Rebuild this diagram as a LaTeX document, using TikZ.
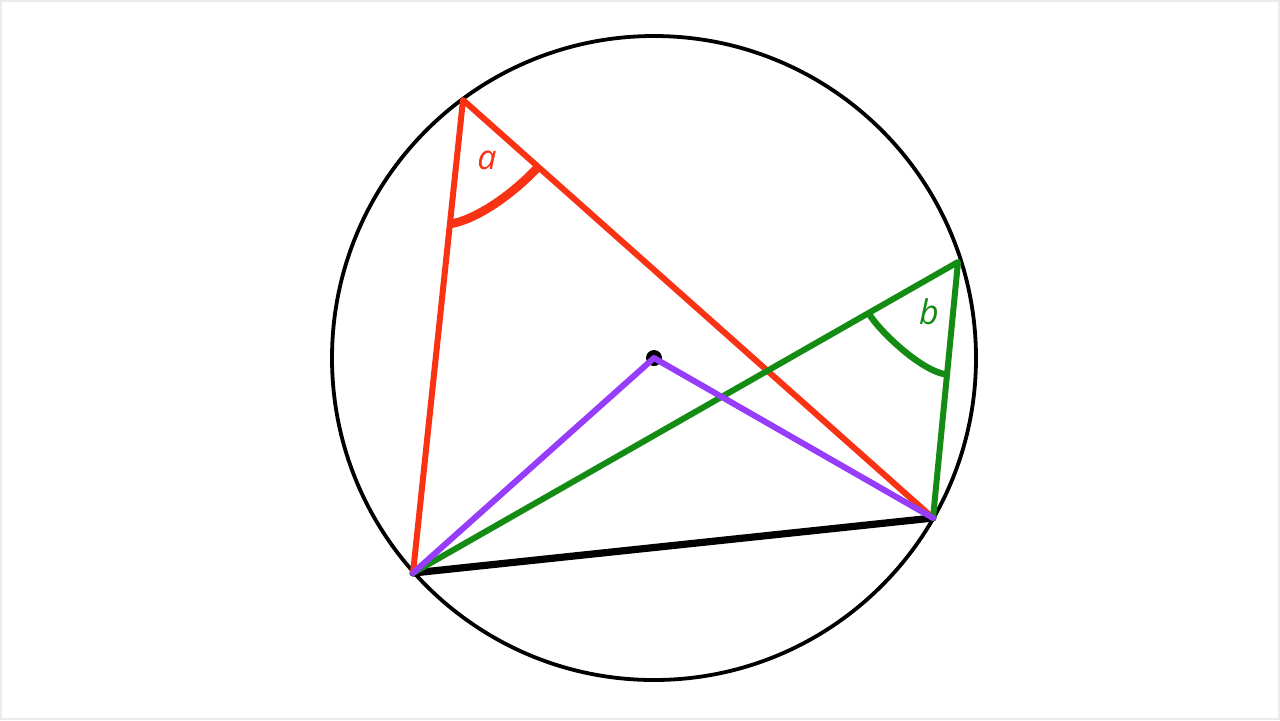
\documentclass[tikz,border=0pt]{standalone}
\usepackage{fontspec}
\newfontfamily\lblfont{Open Sans}
\definecolor{cred}{RGB}{250,50,20}
\definecolor{cgreen}{RGB}{20,140,20}
\definecolor{cpurple}{RGB}{150,60,250}
\begin{document}
\begin{tikzpicture}[x=0.5pt,y=-0.5pt,
  redline/.style={draw=cred,line width=3pt,line cap=round},
  greenline/.style={draw=cgreen,line width=3pt,line cap=round},
  purpleline/.style={draw=cpurple,line width=3pt,line cap=round},
  lbl/.style={font=\lblfont\itshape\fontsize{17pt}{20pt}\selectfont,inner sep=0pt}]
\fill[white] (0,0) rectangle (1280,720);
\draw[black!8,line width=0.8pt] (1,1) rectangle (1279,719);
\useasboundingbox (0,0) rectangle (1280,720);
\coordinate (O) at (654,358);
\coordinate (A) at (463,100);
\coordinate (B) at (413,573);
\coordinate (C) at (933,518);
\coordinate (D) at (958,262);
\draw[black,line width=1.9pt] (O) circle [radius=322];
\draw[black,line width=3.6pt,line cap=round] (B) -- (C);
\draw[redline,line join=round] (B) -- (A) -- (C);
\draw[cred,line width=4.3pt] (450,224) .. controls (480,219) and (518,189) .. (538,167);
\node[lbl,text=cred] (la) at (487,160) {a};
\draw[greenline,line join=round] (B) -- (D) -- (C);
\draw[cgreen,line width=3.2pt] (868.5,313) .. controls (878.5,330.4) and (922,372) .. (947,374.5);
\node[lbl,text=cgreen] (lb) at (929,312) {b};
\fill[black] (O) circle [radius=8];
\draw[purpleline,line join=round] (B) -- (O) -- (C);
\end{tikzpicture}
\end{document}
